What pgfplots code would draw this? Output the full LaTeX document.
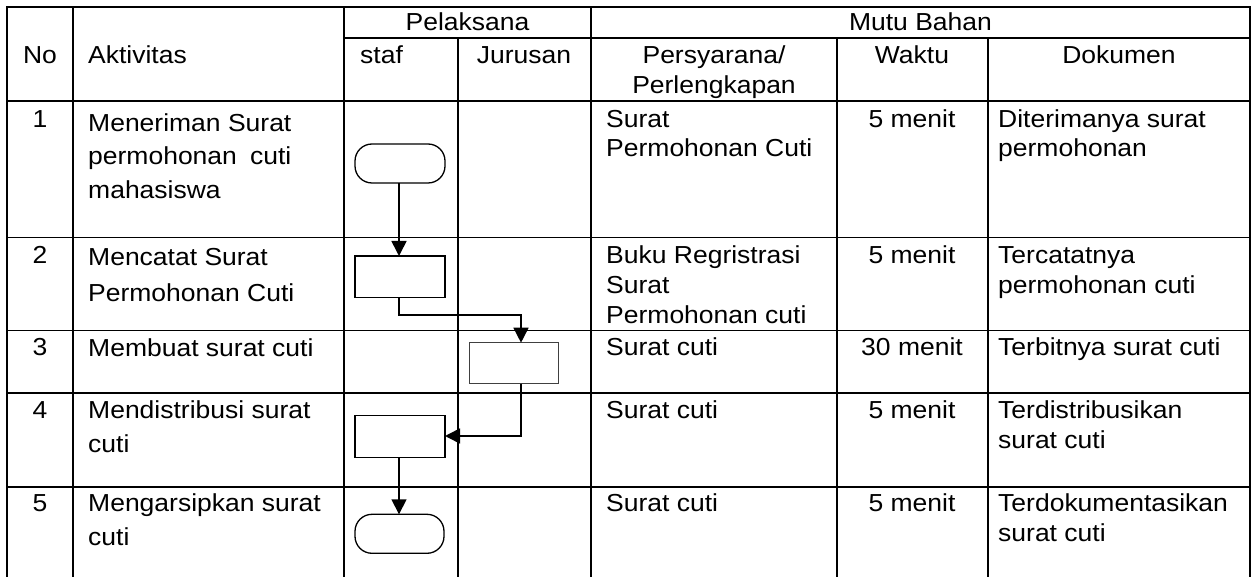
\documentclass[border=0pt]{standalone}
\usepackage{fontspec}
\setmainfont{Liberation Sans}
\usepackage{pgfplots}
\pgfplotsset{compat=1.18}
\usepackage{graphicx}
\usepackage{calc}
\usetikzlibrary{arrows.meta}
\newcommand\T[1]{\scalebox{1.077}[1]{#1}}
\tikzset{
  tx/.style={anchor=base west,inner sep=0pt,font=\fontsize{24.6pt}{29pt}\selectfont},
  tc/.style={tx,anchor=base},
  gl/.style={black,line width=1.8pt,line cap=rect},
  sh/.style={black,line width=1.3pt},
  al/.style={black,line width=1.6pt},
  ar/.style={al,-{Triangle[length=15pt,width=15pt]}},
}
\begin{document}
\begin{tikzpicture}
\begin{axis}[x=1pt,y=1pt,y dir=reverse,xmin=0,xmax=1253,ymin=0,ymax=576,
  hide axis,clip=false,scale only axis]
\addplot[draw=none] coordinates {(0,0) (1253,576)};
% horizontal grid lines
\addplot[gl] coordinates {(7.3,6.7) (1250,6.7)};
\addplot[gl] coordinates {(344,38.3) (1250,38.3)};
\addplot[gl] coordinates {(7.3,101) (1250,101)};
\addplot[gl] coordinates {(7.3,237.5) (1250,237.5)};
\addplot[gl] coordinates {(7.3,330.5) (1250,330.5)};
\addplot[gl] coordinates {(7.3,393) (1250,393)};
\addplot[gl] coordinates {(7.3,487) (1250,487)};
% vertical grid lines
\addplot[gl] coordinates {(7.3,6.7) (7.3,576)};
\addplot[gl] coordinates {(72.7,6.7) (72.7,576)};
\addplot[gl] coordinates {(344,6.7) (344,576)};
\addplot[gl] coordinates {(457.7,38.3) (457.7,576)};
\addplot[gl] coordinates {(591,6.7) (591,576)};
\addplot[gl] coordinates {(836.7,38.3) (836.7,576)};
\addplot[gl] coordinates {(988.3,38.3) (988.3,576)};
\addplot[gl] coordinates {(1250,6.7) (1250,576)};
% flow shapes
\addplot[sh,rounded corners=17pt] coordinates {(355,144) (445,144) (445,183) (355,183)} -- cycle;
\addplot[sh] coordinates {(355,256) (445,256) (445,297.7) (355,297.7)} -- cycle;
\addplot[black!75,line width=0.9pt] coordinates {(469.3,342.7) (558.7,342.7) (558.7,383.7) (469.3,383.7)} -- cycle;
\addplot[sh] coordinates {(355,415.7) (445,415.7) (445,457.3) (355,457.3)} -- cycle;
\addplot[sh,rounded corners=17pt] coordinates {(355,514.3) (444,514.3) (444,553.3) (355,553.3)} -- cycle;
% arrows
\addplot[ar] coordinates {(399,183) (399,256)};
\addplot[ar] coordinates {(399,297.7) (399,315) (521,315) (521,342.7)};
\addplot[ar] coordinates {(521,383.7) (521,436) (445,436)};
\addplot[ar] coordinates {(399,457.3) (399,514.3)};
% header text
\node[tc] at (axis cs:467.5,30.5) {\T{Pelaksana}};
\node[tc] at (axis cs:920.5,30.5) {\T{Mutu Bahan}};
\node[tc] at (axis cs:40,63.5) {\T{No}};
\node[tx] at (axis cs:88,63.5) {\T{Aktivitas}};
\node[tx] at (axis cs:360,63.5) {\T{staf}};
\node[tc] at (axis cs:524,63.5) {\T{Jurusan}};
\node[tc] at (axis cs:714,63.5) {\T{Persyarana/}};
\node[tc] at (axis cs:714,93.5) {\T{Perlengkapan}};
\node[tc] at (axis cs:912,63.5) {\T{Waktu}};
\node[tc] at (axis cs:1119,63.5) {\T{Dokumen}};
% row 1
\node[tc] at (axis cs:40,128) {\T{1}};
\node[tx] at (axis cs:88,131.5) {\T{Meneriman Surat}};
\node[tx] at (axis cs:88,165) {\T{\makebox[\widthof{Meneriman Surat}][s]{permohonan cuti}}};
\node[tx] at (axis cs:88,198.5) {\T{mahasiswa}};
\node[tx] at (axis cs:606,127.5) {\T{Surat}};
\node[tx] at (axis cs:606,157) {\T{Permohonan Cuti}};
\node[tc] at (axis cs:912,127.5) {\T{5 menit}};
\node[tx] at (axis cs:998,127.5) {\T{Diterimanya surat}};
\node[tx] at (axis cs:998,157) {\T{permohonan}};
% row 2
\node[tc] at (axis cs:40,264) {\T{2}};
\node[tx] at (axis cs:88,265.5) {\T{Mencatat Surat}};
\node[tx] at (axis cs:88,301.5) {\T{Permohonan Cuti}};
\node[tx] at (axis cs:606,264) {\T{Buku Regristrasi}};
\node[tx] at (axis cs:606,294) {\T{Surat}};
\node[tx] at (axis cs:606,324) {\T{Permohonan cuti}};
\node[tc] at (axis cs:912,264) {\T{5 menit}};
\node[tx] at (axis cs:998,264) {\T{Tercatatnya}};
\node[tx] at (axis cs:998,294) {\T{permohonan cuti}};
% row 3
\node[tc] at (axis cs:40,356) {\T{3}};
\node[tx] at (axis cs:88,356.5) {\T{Membuat surat cuti}};
\node[tx] at (axis cs:606,356) {\T{Surat cuti}};
\node[tc] at (axis cs:912,356) {\T{30 menit}};
\node[tx] at (axis cs:998,356) {\T{Terbitnya surat cuti}};
% row 4
\node[tc] at (axis cs:40,418) {\T{4}};
\node[tx] at (axis cs:88,418) {\T{Mendistribusi surat}};
\node[tx] at (axis cs:88,452) {\T{cuti}};
\node[tx] at (axis cs:606,418) {\T{Surat cuti}};
\node[tc] at (axis cs:912,418) {\T{5 menit}};
\node[tx] at (axis cs:998,418) {\T{Terdistribusikan}};
\node[tx] at (axis cs:998,448) {\T{surat cuti}};
% row 5
\node[tc] at (axis cs:40,511.5) {\T{5}};
\node[tx] at (axis cs:88,511.5) {\T{Mengarsipkan surat}};
\node[tx] at (axis cs:88,545.5) {\T{cuti}};
\node[tx] at (axis cs:606,511.5) {\T{Surat cuti}};
\node[tc] at (axis cs:912,511.5) {\T{5 menit}};
\node[tx] at (axis cs:998,511.5) {\T{Terdokumentasikan}};
\node[tx] at (axis cs:998,541.5) {\T{surat cuti}};
\end{axis}
\end{tikzpicture}
\end{document}
